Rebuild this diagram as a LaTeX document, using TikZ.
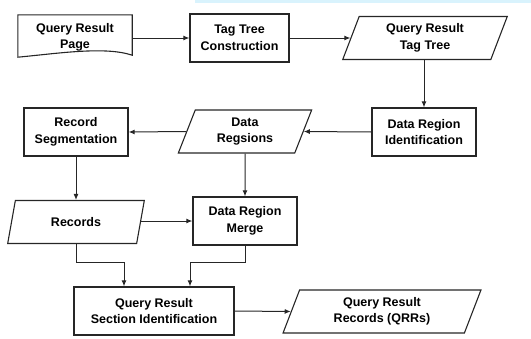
\documentclass[tikz,border=0pt]{standalone}
\usepackage{fontspec}
\setmainfont{Liberation Sans}
\usetikzlibrary{shapes.geometric,arrows.meta,calc}

\begin{document}
\begin{tikzpicture}[x=1pt,y=-1pt,
    every node/.style={font=\fontsize{12.5}{16.5}\selectfont\bfseries, align=center, inner sep=0pt},
    proc/.style={draw=black!85, line width=1.3pt, rectangle, minimum width=#1, minimum height=48pt},
    dat/.style={draw=black!85, line width=1.1pt, trapezium, trapezium left angle=71, trapezium right angle=109,
        trapezium stretches=true, minimum width=#1, minimum height=43pt},
    flow/.style={-{Latex[length=6pt,width=5pt]}, line width=1pt, draw=black!85}]
    \useasboundingbox (0,0) rectangle (531,338);
    % Franja superior
    \fill[cyan!15] (195,0) rectangle (531,3);

    % Fila superior
    \node[minimum width=114pt, minimum height=45pt] (page) at (75,37.5) {Query Result\\Page};
    \draw[draw=black!85, line width=1.1pt] (page.north west) -- (page.north east) -- ($(page.south east)+(0,-5)$)
        .. controls +(-27,-9) and +(42,-4) .. ($(page.south west)+(0,-3)$) -- cycle;
    \node[proc=99pt] (ttc) at (239.5,38) {Tag Tree\\Construction};
    \node[dat=166pt] (qrtt) at (425,38) {Query Result\\Tag Tree};

    % Fila central
    \node[proc=104pt] (dri) at (424,132) {Data Region\\Identification};
    \node[dat=134pt] (dr) at (245,131.5) {Data\\Regsions};
    \node[proc=104pt] (rs) at (76,132) {Record\\Segmentation};

    % Fila inferior
    \node[dat=137pt] (rec) at (76,222) {Records};
    \node[proc=104pt] (drm) at (245,221) {Data Region\\Merge};
    \node[proc=160pt] (qrsi) at (154,311) {Query Result\\Section Identification};
    \node[dat=198pt] (qrr) at (382,311.5) {Query Result\\Records (QRRs)};

    % Flechas
    \draw[flow] (page.east |- ttc.west) -- (ttc.west);
    \draw[flow] (ttc.east) -- (qrtt.west);
    \draw[flow] (dri.north |- qrtt.south) -- (dri.north);
    \draw[flow] (dri.west) -- (dr.east);
    \draw[flow] (dr.west) -- (rs.east);
    \draw[flow] (rs.south) -- (rec.north -| rs.south);
    \draw[flow] (dr.south) -- (drm.north);
    \draw[flow] (rec.east |- drm.west) -- (drm.west);
    \draw[flow] (rec.south -| rs.south) -- ++(0,18) -| (124,0 |- qrsi.north);
    \draw[flow] (drm.south) -- ++(0,17) -| (190,0 |- qrsi.north);
    \draw[flow] (qrsi.east) -- (qrr.west);
\end{tikzpicture}
\end{document}
